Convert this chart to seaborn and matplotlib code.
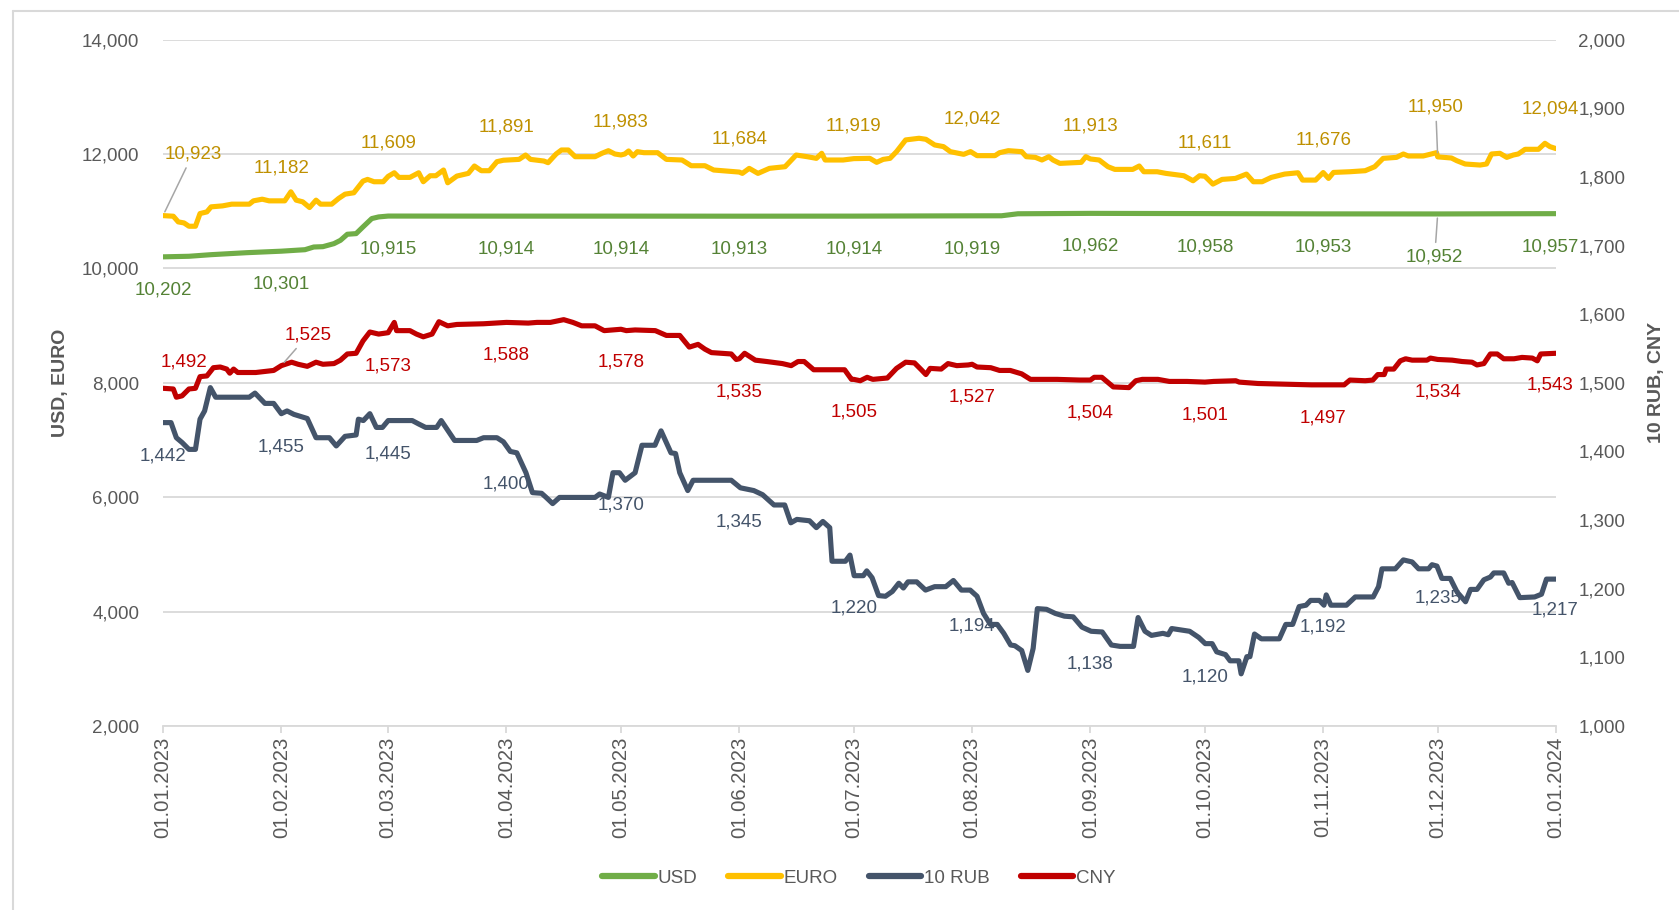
import numpy as np
import pandas as pd
import matplotlib
matplotlib.use('Agg')
import matplotlib.pyplot as plt
import matplotlib.dates as mdates
from matplotlib import font_manager as fm
from matplotlib.lines import Line2D
import seaborn as sns

# day offsets from 01.01.2023 and values
eur_days = [0, 2.7, 4, 5.5, 6.8, 8.5, 9.7, 11.5, 12.6, 15.6, 18, 22.6, 23.7, 26, 27.8, 31, 31.9, 33.5, 34.9,
            36.6, 38.4, 40.1, 41.3, 44.2, 46, 47.7, 50, 52.4, 53.6, 55.3, 57.7, 59, 60.6, 61.8, 64.7, 67, 68.2,
            70, 71.5, 73.5, 74.6, 77, 80, 81.6, 83.4, 85.5, 87.5, 89.2, 93.3, 95, 96.3, 99.8, 100.9, 103, 104.4,
            106.2, 108, 113.2, 115, 116.7, 118.4, 120, 121, 122, 123.2, 124.3, 126, 129.6, 131.9, 136, 138.4,
            142, 144.3, 150.1, 151, 151.8, 153.6, 155.9, 158.9, 163, 165.9, 168.8, 171.2, 172.6, 173.5, 178.2,
            181, 185.2, 187, 188.7, 190.5, 192.2, 194.6, 198.1, 199.9, 202.2, 204.5, 206.3, 209.8, 211.6,
            213.3, 218, 219.2, 221.5, 225, 226.2, 228.6, 230.3, 232.1, 233.2, 235, 240.6, 241.8, 243, 245.3,
            247.6, 249.4, 254.1, 255.8, 257, 260.5, 262.8, 267.5, 269.9, 271.6, 273, 275.1, 277.5, 281, 283.9,
            285.7, 288, 290.4, 293.9, 297.4, 298.6, 302, 304, 305.4, 306.7, 311, 315, 317.5, 319.7, 323.2, 325,
            326.3, 330.2, 333.7, 334, 337.6, 339, 341.2, 345.1, 346.8, 348.1, 350.3, 352.1, 353.8, 355.1,
            356.9, 360.4, 362.1, 363.4, 365]
eur_vals = [10923, 10912, 10813, 10795, 10737, 10737, 10959, 10988, 11076, 11093, 11123, 11123, 11181, 11210,
            11181, 11182, 11181, 11339, 11193, 11164, 11064, 11193, 11123, 11123, 11222, 11298, 11322, 11526,
            11556, 11515, 11515, 11609, 11672, 11591, 11591, 11672, 11515, 11620, 11620, 11720, 11497, 11614,
            11661, 11790, 11708, 11708, 11866, 11891, 11906, 11982, 11906, 11877, 11848, 12000, 12070, 12070,
            11953, 11953, 12012, 12058, 12000, 11983, 12000, 12053, 11965, 12041, 12023, 12023, 11906, 11895,
            11795, 11795, 11720, 11690, 11684, 11661, 11749, 11661, 11749, 11778, 11982, 11953, 11924, 12012,
            11895, 11895, 11919, 11924, 11854, 11906, 11924, 12041, 12246, 12275, 12257, 12158, 12129, 12041,
            11994, 12042, 11971, 11971, 12023, 12058, 12041, 11953, 11941, 11895, 11953, 11895, 11836, 11854,
            11953, 11913, 11895, 11778, 11731, 11731, 11790, 11690, 11690, 11661, 11620, 11532, 11620, 11611,
            11474, 11556, 11573, 11649, 11515, 11515, 11591, 11649, 11672, 11544, 11544, 11676, 11573, 11678,
            11690, 11708, 11778, 11924, 11941, 12000, 11965, 11965, 12023, 11950, 11930, 11883, 11825, 11807,
            11825, 12000, 12012, 11941, 11982, 12000, 12082, 12082, 12187, 12129, 12094]

usd_days = [0, 6.8, 12.6, 22, 31, 37.2, 39.5, 41.9, 44.8, 46.5, 48.3, 50.6, 52.4, 54.7, 56.5, 59, 90, 120,
            151, 181, 212, 219.7, 224, 243, 273, 304, 334, 365]
usd_vals = [10202, 10212, 10240, 10275, 10301, 10327, 10374, 10380, 10433, 10491, 10597, 10608, 10725, 10871,
            10900, 10915, 10914, 10914, 10913, 10914, 10919, 10920, 10955, 10962, 10958, 10953, 10952, 10957]

cny_days = [0, 2.7, 3.5, 5, 6.8, 8.5, 9.7, 11.5, 13.2, 15, 16.7, 17.5, 18.5, 19.6, 24.3, 29, 31, 33.7, 35.4,
            37.8, 40.1, 41.9, 44.8, 46.5, 48.3, 50.6, 52.4, 54.2, 56.5, 59, 60.6, 61.2, 64.7, 66.4, 68.2, 70.5,
            72.3, 74.6, 77, 84, 90, 95.7, 98, 101.5, 105, 107.4, 109.7, 113.2, 115.6, 120, 121.4, 123.7, 129,
            131.9, 135.4, 137.9, 140.2, 142, 143.7, 148.9, 150.2, 151, 152.4, 155.2, 158.2, 162.3, 164.6, 166.4,
            168, 170.5, 178.6, 180.4, 181, 182.7, 184.5, 186, 189.8, 192.2, 194.6, 196.9, 198.7, 199.9, 201,
            203.9, 205.7, 208, 211, 212, 213.3, 216.9, 219.2, 222, 225, 227.3, 234.3, 240.2, 243, 244, 246, 249,
            253.1, 254.9, 256.6, 260.7, 263.7, 268.3, 273, 275.3, 281.1, 282, 286.9, 293.9, 300.9, 304, 309.5,
            311, 315, 317, 318.3, 320, 320.5, 322.5, 324.2, 325.6, 327.3, 331.2, 332.1, 334, 337.8, 340.4, 343,
            344.3, 346.1, 347.8, 349.6, 351.3, 354, 356.1, 358.8, 360.1, 361, 365]
cny_vals = [1492, 1491, 1479, 1481, 1491, 1492, 1509, 1510, 1522, 1523, 1520, 1514, 1520, 1515, 1515, 1518,
            1525, 1530, 1527, 1524, 1530, 1527, 1528, 1533, 1542, 1543, 1561, 1574, 1571, 1573, 1588, 1576,
            1576, 1571, 1567, 1571, 1589, 1583, 1585, 1586, 1588, 1587, 1588, 1588, 1592, 1588, 1583, 1583,
            1576, 1578, 1576, 1577, 1576, 1569, 1569, 1552, 1556, 1549, 1544, 1542, 1534, 1535, 1543, 1533,
            1531, 1528, 1525, 1531, 1531, 1519, 1519, 1505, 1505, 1503, 1508, 1505, 1507, 1521, 1530, 1529,
            1519, 1512, 1521, 1520, 1528, 1525, 1526, 1527, 1523, 1522, 1518, 1518, 1513, 1505, 1505, 1504,
            1504, 1508, 1508, 1494, 1493, 1503, 1505, 1505, 1502, 1502, 1501, 1502, 1503, 1501, 1499, 1498,
            1497, 1497, 1497, 1504, 1503, 1504, 1512, 1512, 1520, 1520, 1532, 1535, 1533, 1533, 1536, 1534,
            1533, 1531, 1530, 1526, 1528, 1542, 1542, 1535, 1535, 1537, 1536, 1532, 1542, 1543]

rub_days = [0, 2.1, 3.5, 5, 6.8, 8.5, 9.7, 10.9, 12.4, 13.8, 22.6, 24.1, 26.7, 29, 31, 32.5, 34.3, 37.8, 40.1,
            43.6, 45.4, 47.7, 50.6, 51.2, 52.5, 54.2, 55.9, 57.5, 59, 65.3, 67, 68.8, 71.7, 72.9, 76.4, 82.2, 84,
            87.5, 89.2, 91, 92.7, 95.1, 96.8, 99.2, 100.4, 102.1, 103.9, 113.2, 114.4, 116.7, 117.9, 119.6,
            121.1, 123.7, 125.5, 128.9, 130.5, 133.1, 134.3, 135.4, 137.5, 138.9, 148.9, 151.3, 154.8, 157.1,
            160.1, 162.9, 164.5, 166.1, 169.4, 171.2, 172.9, 174.7, 175.3, 178.8, 180, 181.1, 183.5, 184.4,
            185.8, 187.5, 189.3, 191.1, 192.8, 194, 195.2, 197.5, 199.8, 202.2, 205.1, 207.1, 209.2, 211.5,
            213.3, 215, 216.8, 218.6, 220.3, 222.1, 223.2, 225, 226.6, 228, 229.1, 231.5, 233.8, 236.2, 238.5,
            240.8, 243.2, 246.1, 248.5, 250.8, 254.3, 255.5, 257.3, 259, 262, 263.4, 264.3, 269, 271.4, 273.1,
            274.9, 276.1, 278.4, 279.6, 281.9, 282.5, 284, 284.8, 286, 287.8, 292.5, 294.2, 296, 297.7, 299.5,
            300.7, 303, 304.2, 304.8, 306, 310.1, 312.4, 317.1, 318.5, 319.4, 322.9, 325, 327.3, 329, 331.6,
            332.5, 333.8, 335.1, 337.3, 339.1, 341.3, 342.6, 344.3, 346.1, 347.8, 348.7, 351.3, 352.6, 353.5,
            355.5, 359.4, 361.2, 362.5, 365]
rub_vals = [1442, 1442, 1420, 1413, 1403, 1403, 1447, 1459, 1493, 1479, 1479, 1485, 1470, 1470, 1455, 1459,
            1454, 1448, 1420, 1420, 1408, 1422, 1424, 1447, 1445, 1455, 1435, 1435, 1445, 1445, 1440, 1435,
            1435, 1445, 1416, 1416, 1420, 1420, 1414, 1400, 1398, 1369, 1340, 1339, 1333, 1324, 1333, 1333,
            1338, 1333, 1369, 1369, 1358, 1369, 1409, 1409, 1430, 1398, 1397, 1369, 1343, 1358, 1358, 1347,
            1343, 1337, 1322, 1322, 1296, 1301, 1299, 1289, 1298, 1289, 1240, 1240, 1249, 1219, 1219, 1226,
            1216, 1190, 1189, 1196, 1208, 1201, 1210, 1210, 1198, 1203, 1203, 1212, 1198, 1198, 1189, 1164,
            1148, 1148, 1135, 1118, 1117, 1110, 1081, 1113, 1171, 1170, 1164, 1160, 1159, 1144, 1138, 1137,
            1118, 1116, 1116, 1158, 1138, 1132, 1135, 1133, 1142, 1138, 1129, 1120, 1120, 1108, 1104, 1095,
            1095, 1076, 1101, 1101, 1134, 1127, 1127, 1148, 1148, 1174, 1176, 1183, 1183, 1176, 1191, 1176,
            1176, 1188, 1188, 1203, 1229, 1229, 1242, 1239, 1229, 1229, 1235, 1233, 1215, 1215, 1195, 1181,
            1199, 1199, 1213, 1217, 1223, 1223, 1208, 1209, 1187, 1188, 1192, 1214, 1214]

# data labels at month starts
month_starts = pd.date_range('2023-01-01', '2024-01-01', freq='MS')
usd_labels = [10202, 10301, 10915, 10914, 10914, 10913, 10914, 10919, 10962, 10958, 10953, 10952, 10957]
eur_labels = [10923, 11182, 11609, 11891, 11983, 11684, 11919, 12042, 11913, 11611, 11676, 11950, 12094]
rub_labels = [1442, 1455, 1445, 1400, 1370, 1345, 1220, 1194, 1138, 1120, 1192, 1235, 1217]
cny_labels = [1492, 1525, 1573, 1588, 1578, 1535, 1505, 1527, 1504, 1501, 1497, 1534, 1543]

START = pd.Timestamp('2023-01-01')


def to_dates(days):
    return START + pd.to_timedelta(np.asarray(days, dtype=float), unit='D')


sns.set_theme(style='white')
names = {f.name for f in fm.fontManager.ttflist}
if 'Liberation Sans Narrow' in names:
    NARROW, NSIZE = 'Liberation Sans Narrow', 16
else:
    NARROW, NSIZE = 'Liberation Sans', 13.5
plt.rcParams['font.family'] = ['Liberation Sans', 'DejaVu Sans']

GRAY = '#595959'
GRID = '#D9D9D9'
C_USD, C_EUR, C_RUB, C_CNY = '#70AD47', '#FFC000', '#44546A', '#C00000'

fig = plt.figure(figsize=(16.79, 9.10), dpi=100)
ax = fig.add_axes([163 / 1679, 1 - 726 / 910, (1556 - 163) / 1679, (726 - 39.6) / 910])
ax2 = ax.twinx()

lw = 3.7
sns.lineplot(x=to_dates(usd_days), y=usd_vals, ax=ax, color=C_USD, linewidth=lw, label='USD', legend=False)
sns.lineplot(x=to_dates(eur_days), y=eur_vals, ax=ax, color=C_EUR, linewidth=lw, label='EURO', legend=False)
sns.lineplot(x=to_dates(rub_days), y=rub_vals, ax=ax2, color=C_RUB, linewidth=lw, label='10 RUB', legend=False)
sns.lineplot(x=to_dates(cny_days), y=cny_vals, ax=ax2, color=C_CNY, linewidth=lw, label='CNY', legend=False)
for a in (ax, ax2):
    for ln in a.get_lines():
        ln.set_solid_joinstyle('round')
        ln.set_solid_capstyle('round')

ax.set_ylim(2000, 14000)
ax2.set_ylim(1000, 2000)
ax.set_xlim(month_starts[0], month_starts[-1])
ax.set_yticks(range(2000, 14001, 2000))
ax2.set_yticks(range(1000, 2001, 100))
ax.yaxis.set_major_formatter(matplotlib.ticker.StrMethodFormatter('{x:,.0f}'))
ax2.yaxis.set_major_formatter(matplotlib.ticker.StrMethodFormatter('{x:,.0f}'))
ax.set_xticks(month_starts)
ax.xaxis.set_major_formatter(mdates.DateFormatter('%d.%m.%Y'))

ax.grid(axis='y', color=GRID, linewidth=1.3)
ax.grid(axis='x', visible=False)
ax2.grid(False)
for a in (ax, ax2):
    for s in a.spines.values():
        s.set_visible(False)
ax.spines['bottom'].set_visible(True)
ax.spines['bottom'].set_color(GRID)
ax.spines['bottom'].set_linewidth(1.3)

ax.tick_params(axis='x', which='major', direction='out', length=5, width=1.3, color=GRID, pad=3,
               labelsize=14.6, labelcolor=GRAY, labelrotation=90, bottom=True)
ax.tick_params(axis='y', length=0, pad=17, labelcolor=GRAY)
ax2.tick_params(axis='y', length=0, pad=16, labelcolor=GRAY)
for lab in ax.get_yticklabels() + ax2.get_yticklabels():
    lab.set_fontfamily(NARROW)
    lab.set_fontsize(NSIZE)
for lab in ax.get_xticklabels():
    lab.set_fontfamily('Liberation Sans')

ax.set_ylabel('USD, EURO', fontsize=14, fontweight='bold', color=GRAY, labelpad=9)
ax2.set_ylabel('10 RUB, CNY', fontsize=14, fontweight='bold', color=GRAY, labelpad=16, rotation=90)
ax.set_xlabel('')

# data labels: (offset x, offset y, leader) in pixels, overrides per index
series_labels = [
    (ax, eur_labels, '#BF9000', 33, {0: (30, 62, True), 11: (-2, 50, True), 12: (-6, 40, False)}),
    (ax, usd_labels, '#548235', -33, {11: (-3, -43, True), 12: (-6, -33, False)}),
    (ax2, cny_labels, C_CNY, -33, {0: (21, 26, False), 1: (27, 31, True), 12: (-6, -32, False)}),
    (ax2, rub_labels, C_RUB, -33, {12: (-1, -33, False)}),
]
for a, vals, col, dy, over in series_labels:
    for i, (d, v) in enumerate(zip(month_starts, vals)):
        ox, oy, leader = over.get(i, (0, dy, False))
        kw = dict(arrowprops=dict(arrowstyle='-', color='#A6A6A6', lw=1.1, shrinkA=2, shrinkB=3)) if leader else {}
        a.annotate(f'{v:,}', xy=(d, v), xytext=(ox, oy), textcoords='offset pixels',
                   ha='center', va='center', color=col, fontsize=NSIZE, fontfamily=NARROW, **kw)

handles = [Line2D([], [], color=c, linewidth=4.5) for c in (C_USD, C_EUR, C_RUB, C_CNY)]
leg = fig.legend(handles, ['USD', 'EURO', '10 RUB', 'CNY'], loc='center', bbox_to_anchor=(0.5115, 1 - 878 / 910),
                 ncol=4, frameon=False, handlelength=2.8, handletextpad=0.15, columnspacing=1.65,
                 prop={'family': NARROW, 'size': NSIZE})
for t in leg.get_texts():
    t.set_color(GRAY)

# outer chart frame
fig.add_artist(Line2D([13 / 1679, 13 / 1679], [0, 1 - 11 / 910], color=GRID, linewidth=1.5,
                      transform=fig.transFigure))
fig.add_artist(Line2D([13 / 1679, 1], [1 - 11 / 910, 1 - 11 / 910], color=GRID, linewidth=1.5,
                      transform=fig.transFigure))

fig.savefig('out.png', dpi=100, facecolor='white')
